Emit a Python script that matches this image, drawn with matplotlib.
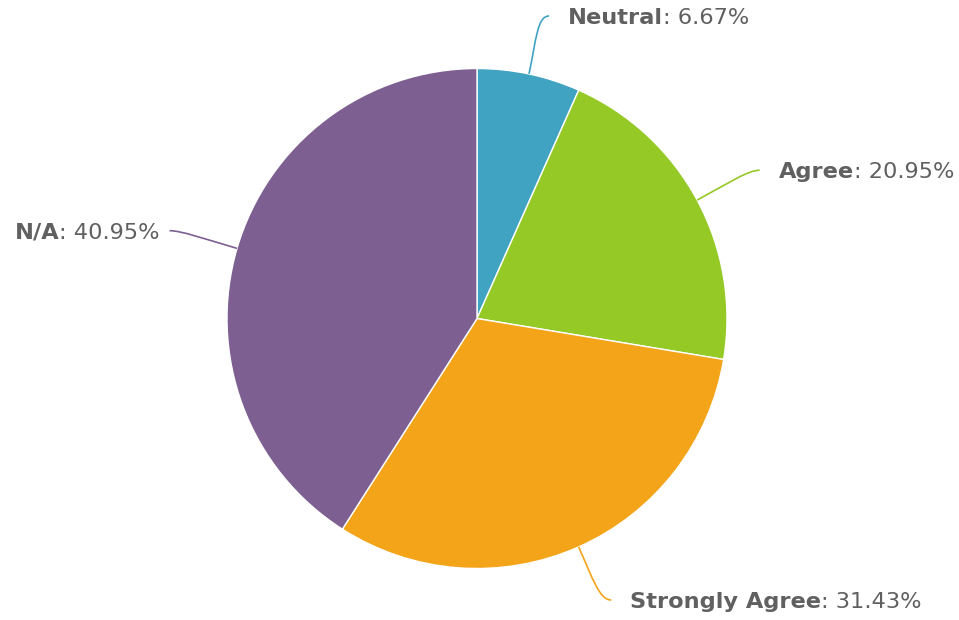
import numpy as np
import matplotlib
matplotlib.use('Agg')
import matplotlib.pyplot as plt
from matplotlib.path import Path
from matplotlib.patches import PathPatch

# data
labels = ['Neutral', 'Agree', 'Strongly Agree', 'N/A']
values = [6.67, 20.95, 31.43, 40.95]
colors = ['#41a3c2', '#95c926', '#f4a418', '#7d5f91']

W, H = 959, 620
cx, cy, R = 477, H - 318.5, 250
label_r = 313
text_color = '#606060'

fig = plt.figure(figsize=(W / 100, H / 100), dpi=100)
ax = fig.add_axes([0, 0, 1, 1])
ax.pie(values, colors=colors, startangle=90, counterclock=False,
       center=(cx, cy), radius=R,
       wedgeprops=dict(edgecolor='white', linewidth=1))
ax.set_xlim(0, W)
ax.set_ylim(0, H)
ax.set_aspect('auto')
ax.axis('off')

renderer = fig.canvas.get_renderer()
total = sum(values)
cum = 0
for name, v, col in zip(labels, values, colors):
    mid = np.radians((cum + v / 2) / total * 360)
    cum += v
    s, c = np.sin(mid), np.cos(mid)
    side = 1 if s >= 0 else -1
    edge = (cx + R * s, cy + R * c)
    ctrl1 = (cx + (R + 35) * s, cy + (R + 35) * c)
    # keep labels inside the canvas (top / bottom)
    ey = min(max(cy + label_r * c, 20), H - 16)
    end = (cx + label_r * s + side * 7, ey)
    ctrl2 = (end[0] - side * 12, end[1])
    path = Path([edge, ctrl1, ctrl2, end],
                [Path.MOVETO, Path.CURVE4, Path.CURVE4, Path.CURVE4])
    ax.add_patch(PathPatch(path, facecolor='none', edgecolor=col, lw=1.2))

    tx = end[0] + (19 if side > 0 else -10)
    ty = end[1] - 2
    kw = dict(fontsize=16.2, color=text_color, va='center')
    if side > 0:
        t1 = ax.text(tx, ty, name, fontweight='bold', ha='left', **kw)
        w = t1.get_window_extent(renderer).width
        ax.text(tx + w, ty, f': {v:.2f}%', ha='left', **kw)
    else:
        t2 = ax.text(tx, ty, f': {v:.2f}%', ha='right', **kw)
        w = t2.get_window_extent(renderer).width
        ax.text(tx - w, ty, name, fontweight='bold', ha='right', **kw)

fig.savefig('out.png', dpi=100)
